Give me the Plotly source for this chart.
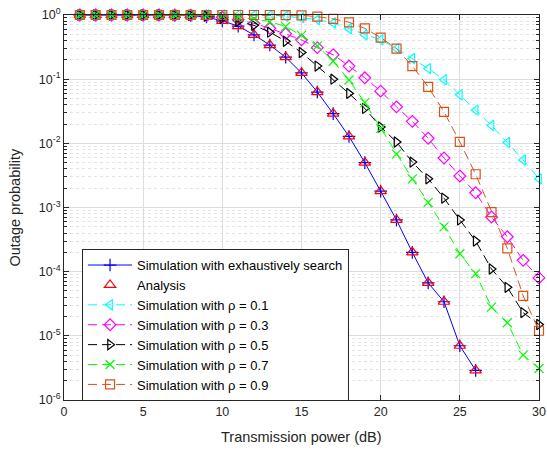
import plotly.graph_objects as go

snr = list(range(1, 31))

exhaustive = [1.0, 1.0, 1.0, 1.0, 1.0, 0.998, 0.995, 0.985, 0.93, 0.81, 0.67, 0.49, 0.34, 0.22,
              0.125, 0.063, 0.029, 0.0128, 0.0050, 0.0018, 6.4e-4, 2.0e-4, 6.7e-5, 3.4e-5,
              7.0e-6, 2.9e-6]
analysis = [1.0, 1.0, 1.0, 1.0, 1.0, 0.998, 0.995, 0.985, 0.93, 0.81, 0.67, 0.49, 0.34, 0.22,
            0.125, 0.063, 0.029, 0.0128, 0.0050, 0.0018, 6.4e-4, 2.0e-4, 6.7e-5, 3.4e-5,
            7.0e-6, 2.9e-6]
rho01 = [1.0, 1.0, 1.0, 1.0, 1.0, 1.0, 1.0, 1.0, 1.0, 1.0, 0.998, 0.995, 0.985, 0.96,
         0.91, 0.85, 0.75, 0.61, 0.49, 0.41, 0.30, 0.21, 0.146, 0.098, 0.057, 0.033,
         0.019, 0.0103, 0.0055, 0.0028]
rho03 = [1.0, 1.0, 1.0, 1.0, 1.0, 0.999, 0.995, 0.99, 0.97, 0.92, 0.84, 0.74, 0.62, 0.51,
         0.41, 0.31, 0.24, 0.16, 0.105, 0.065, 0.037, 0.022, 0.012, 0.0059, 0.0031,
         0.0017, 7.1e-4, 3.5e-4, 1.5e-4, 8.0e-5]
rho05 = [1.0, 1.0, 1.0, 1.0, 1.0, 0.999, 0.995, 0.99, 0.96, 0.89, 0.79, 0.69, 0.54, 0.39,
         0.26, 0.16, 0.10, 0.060, 0.035, 0.018, 0.0105, 0.0051, 0.0028, 0.0014, 6.4e-4,
         3.0e-4, 1.1e-4, 5.7e-5, 2.3e-5, 1.5e-5]
rho07 = [1.0, 1.0, 1.0, 1.0, 1.0, 1.0, 0.999, 0.995, 0.99, 0.97, 0.93, 0.87, 0.79, 0.66,
         0.48, 0.33, 0.19, 0.097, 0.043, 0.017, 0.0068, 0.0028, 0.0012, 5.0e-4, 1.9e-4,
         9.3e-5, 2.8e-5, 1.6e-5, 5.0e-6, 3.1e-6]
rho09 = [1.0, 1.0, 1.0, 1.0, 1.0, 1.0, 1.0, 1.0, 1.0, 1.0, 1.0, 1.0, 1.0, 0.998,
         0.99, 0.94, 0.87, 0.77, 0.62, 0.445, 0.30, 0.16, 0.076, 0.031, 0.0105, 0.0033,
         8.5e-4, 2.3e-4, 4.2e-5, 1.2e-5]

ytick_vals = [1e-6, 1e-5, 1e-4, 1e-3, 1e-2, 1e-1, 1]
ytick_text = ["10<sup>-6</sup>", "10<sup>-5</sup>", "10<sup>-4</sup>", "10<sup>-3</sup>",
              "10<sup>-2</sup>", "10<sup>-1</sup>", "10<sup>0</sup>"]

FONT = "Liberation Sans, Arial, sans-serif"
AX = "#262626"

fig = go.Figure()

fig.add_trace(go.Scatter(
    x=snr[:len(exhaustive)], y=exhaustive, mode="lines+markers",
    name="Simulation with exhaustively search", cliponaxis=False,
    line=dict(color="#0000FF", width=1),
    marker=dict(symbol="cross-thin", size=9, line=dict(color="#0000FF", width=1.2))))
fig.add_trace(go.Scatter(
    x=snr[:len(analysis)], y=analysis, mode="markers", name="Analysis", cliponaxis=False,
    marker=dict(symbol="triangle-up-open", size=10, color="#FF0000",
                line=dict(color="#FF0000", width=1.2))))

series = [
    ("Simulation with ρ = 0.1", rho01, "#00FFFF", "triangle-left-open"),
    ("Simulation with ρ = 0.3", rho03, "#FF00FF", "diamond-open"),
    ("Simulation with ρ = 0.5", rho05, "#000000", "triangle-right-open"),
    ("Simulation with ρ = 0.7", rho07, "#00FF00", "x-thin"),
    ("Simulation with ρ = 0.9", rho09, "#D95319", "square-open"),
]
for name, vals, col, sym in series:
    fig.add_trace(go.Scatter(
        x=snr, y=vals, mode="lines+markers", name=name, cliponaxis=False,
        line=dict(color=col, width=1, dash="9px,5px"),
        marker=dict(symbol=sym, size=9, color=col, line=dict(color=col, width=1.2))))

fig.update_layout(
    width=547, height=452,
    margin=dict(l=64, r=8, t=15, b=52),
    paper_bgcolor="white", plot_bgcolor="white",
    font=dict(family=FONT, size=12, color=AX),
    showlegend=True,
    legend=dict(x=0.038, y=0.392, xanchor="left", yanchor="top",
                bgcolor="white", bordercolor=AX, borderwidth=1,
                font=dict(family=FONT, size=13, color="#000000"),
                tracegroupgap=0, itemwidth=44),
    annotations=[
        dict(text="Transmission power (dB)", xref="paper", yref="paper",
             x=0.5, y=(400 - 437) / 385, xanchor="center", yanchor="middle",
             showarrow=False, font=dict(family=FONT, size=14.5, color=AX)),
        dict(text="Outage probability", xref="paper", yref="paper",
             x=(14 - 64) / 475, y=0.5, xanchor="center", yanchor="middle",
             textangle=-90, showarrow=False, font=dict(family=FONT, size=14.5, color=AX)),
    ],
)
fig.update_xaxes(
    range=[0, 30], dtick=5, tick0=0,
    showline=True, linecolor=AX, linewidth=1, mirror="ticks",
    ticks="inside", ticklen=5, tickcolor=AX,
    showgrid=True, gridcolor="#DDDDDD", gridwidth=1,
    zeroline=False, automargin=False,
    tickfont=dict(family=FONT, size=12.5, color=AX),
)
fig.update_yaxes(
    type="log", range=[-6, 0],
    tickvals=ytick_vals, ticktext=ytick_text,
    showline=True, linecolor=AX, linewidth=1, mirror="ticks",
    ticks="inside", ticklen=5, tickcolor=AX,
    showgrid=True, gridcolor="#DDDDDD", gridwidth=1,
    zeroline=False, automargin=False,
    minor=dict(dtick="D1", ticks="inside", ticklen=3, tickcolor=AX,
               showgrid=True, gridcolor="#E4E4E4", griddash="dot", gridwidth=1),
    tickfont=dict(family=FONT, size=12.5, color=AX),
)

fig.write_html("out.html", config={"displayModeBar": False},
               post_script="document.body.style.margin='0';document.body.style.overflow='hidden';")
